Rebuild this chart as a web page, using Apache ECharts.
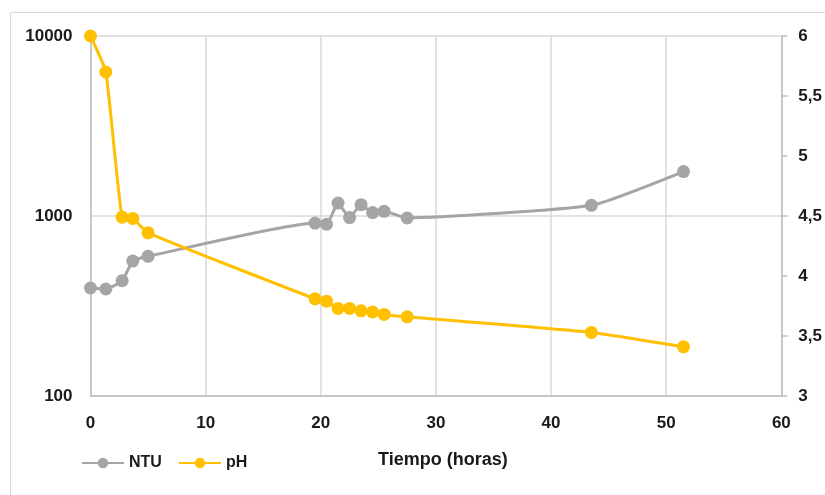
<!DOCTYPE html>
<html>
<head>
<meta charset="utf-8">
<script src="https://cdn.jsdelivr.net/npm/echarts@6/dist/echarts.min.js"></script>
<style>
  html, body { margin: 0; padding: 0; background: #fff; }
  #chart { width: 825px; height: 495px; }
</style>
</head>
<body>
<div id="chart"></div>
<script>
// tiempo en horas
const hours = [0, 1.33, 2.75, 3.67, 5, 19.5, 20.5, 21.5, 22.5, 23.5, 24.5, 25.5, 27.5, 43.5, 51.5]
const ntu = [398, 393, 437, 562, 597, 914, 900, 1180, 980, 1156, 1045, 1062, 975, 1146, 1766]
const ph = [6.0, 5.70, 4.49, 4.48, 4.36, 3.81, 3.79, 3.73, 3.73, 3.71, 3.70, 3.68, 3.66, 3.53, 3.41]

const ntuData = hours.map((h, i) => [h, ntu[i]])
const phData = hours.map((h, i) => [h, ph[i]])

const fontFamily = "'Liberation Sans', 'DejaVu Sans', sans-serif"
const labelStyle = { color: '#1a1a1a', fontWeight: 'bold', fontSize: 17, fontFamily }

const chart = echarts.init(document.getElementById('chart'))

chart.setOption({
  animation: false,
  graphic: [{
    type: 'rect',
    shape: { x: 10.5, y: 12.5, width: 900, height: 600 },
    style: { fill: 'none', stroke: '#d9d9d9', lineWidth: 1 },
    silent: true
  }],
  grid: { left: 90.5, right: 42, top: 36, bottom: 99 },
  legend: {
    left: 76,
    top: 450,
    itemWidth: 42,
    itemHeight: 13,
    itemGap: 16,
    textStyle: { color: '#1a1a1a', fontWeight: 'bold', fontSize: 16, fontFamily },
    data: ['NTU', 'pH']
  },
  xAxis: {
    type: 'value',
    min: 0,
    max: 60,
    interval: 10,
    name: 'Tiempo (horas)',
    nameLocation: 'middle',
    nameGap: 55,
    nameTextStyle: { color: '#1a1a1a', fontWeight: 'bold', fontSize: 18, fontFamily, padding: [0, 0, 0, 14] },
    axisLine: { lineStyle: { color: '#bfbfbf', width: 1.5 } },
    axisTick: { show: false },
    axisLabel: { ...labelStyle, margin: 19 },
    splitLine: { lineStyle: { color: '#d9d9d9', width: 1.5 } }
  },
  yAxis: [{
    type: 'log',
    logBase: 10,
    min: 100,
    max: 10000,
    axisLine: { show: true, lineStyle: { color: '#bfbfbf', width: 1.5 } },
    axisTick: { show: false },
    minorTick: { show: false },
    axisLabel: { ...labelStyle, margin: 18, formatter: v => String(Math.round(v)) },
    splitLine: { lineStyle: { color: '#d9d9d9', width: 1.5 } }
  }, {
    type: 'value',
    min: 3,
    max: 6,
    interval: 0.5,
    position: 'right',
    axisLine: { show: true, lineStyle: { color: '#bfbfbf', width: 1.5 } },
    axisTick: { show: true, length: 6, lineStyle: { color: '#bfbfbf', width: 1.5 } },
    axisLabel: {
      ...labelStyle,
      margin: 17,
      formatter: v => String(v).replace('.', ',')
    },
    splitLine: { show: false }
  }],
  series: [{
    name: 'NTU',
    type: 'line',
    yAxisIndex: 0,
    data: ntuData,
    smooth: 0.15,
    symbol: 'circle',
    symbolSize: 13,
    lineStyle: { color: '#a5a5a5', width: 3 },
    itemStyle: { color: '#a5a5a5' }
  }, {
    name: 'pH',
    type: 'line',
    yAxisIndex: 1,
    data: phData,
    smooth: 0.15,
    symbol: 'circle',
    symbolSize: 13,
    lineStyle: { color: '#ffc000', width: 3 },
    itemStyle: { color: '#ffc000' }
  }]
})
</script>
</body>
</html>
